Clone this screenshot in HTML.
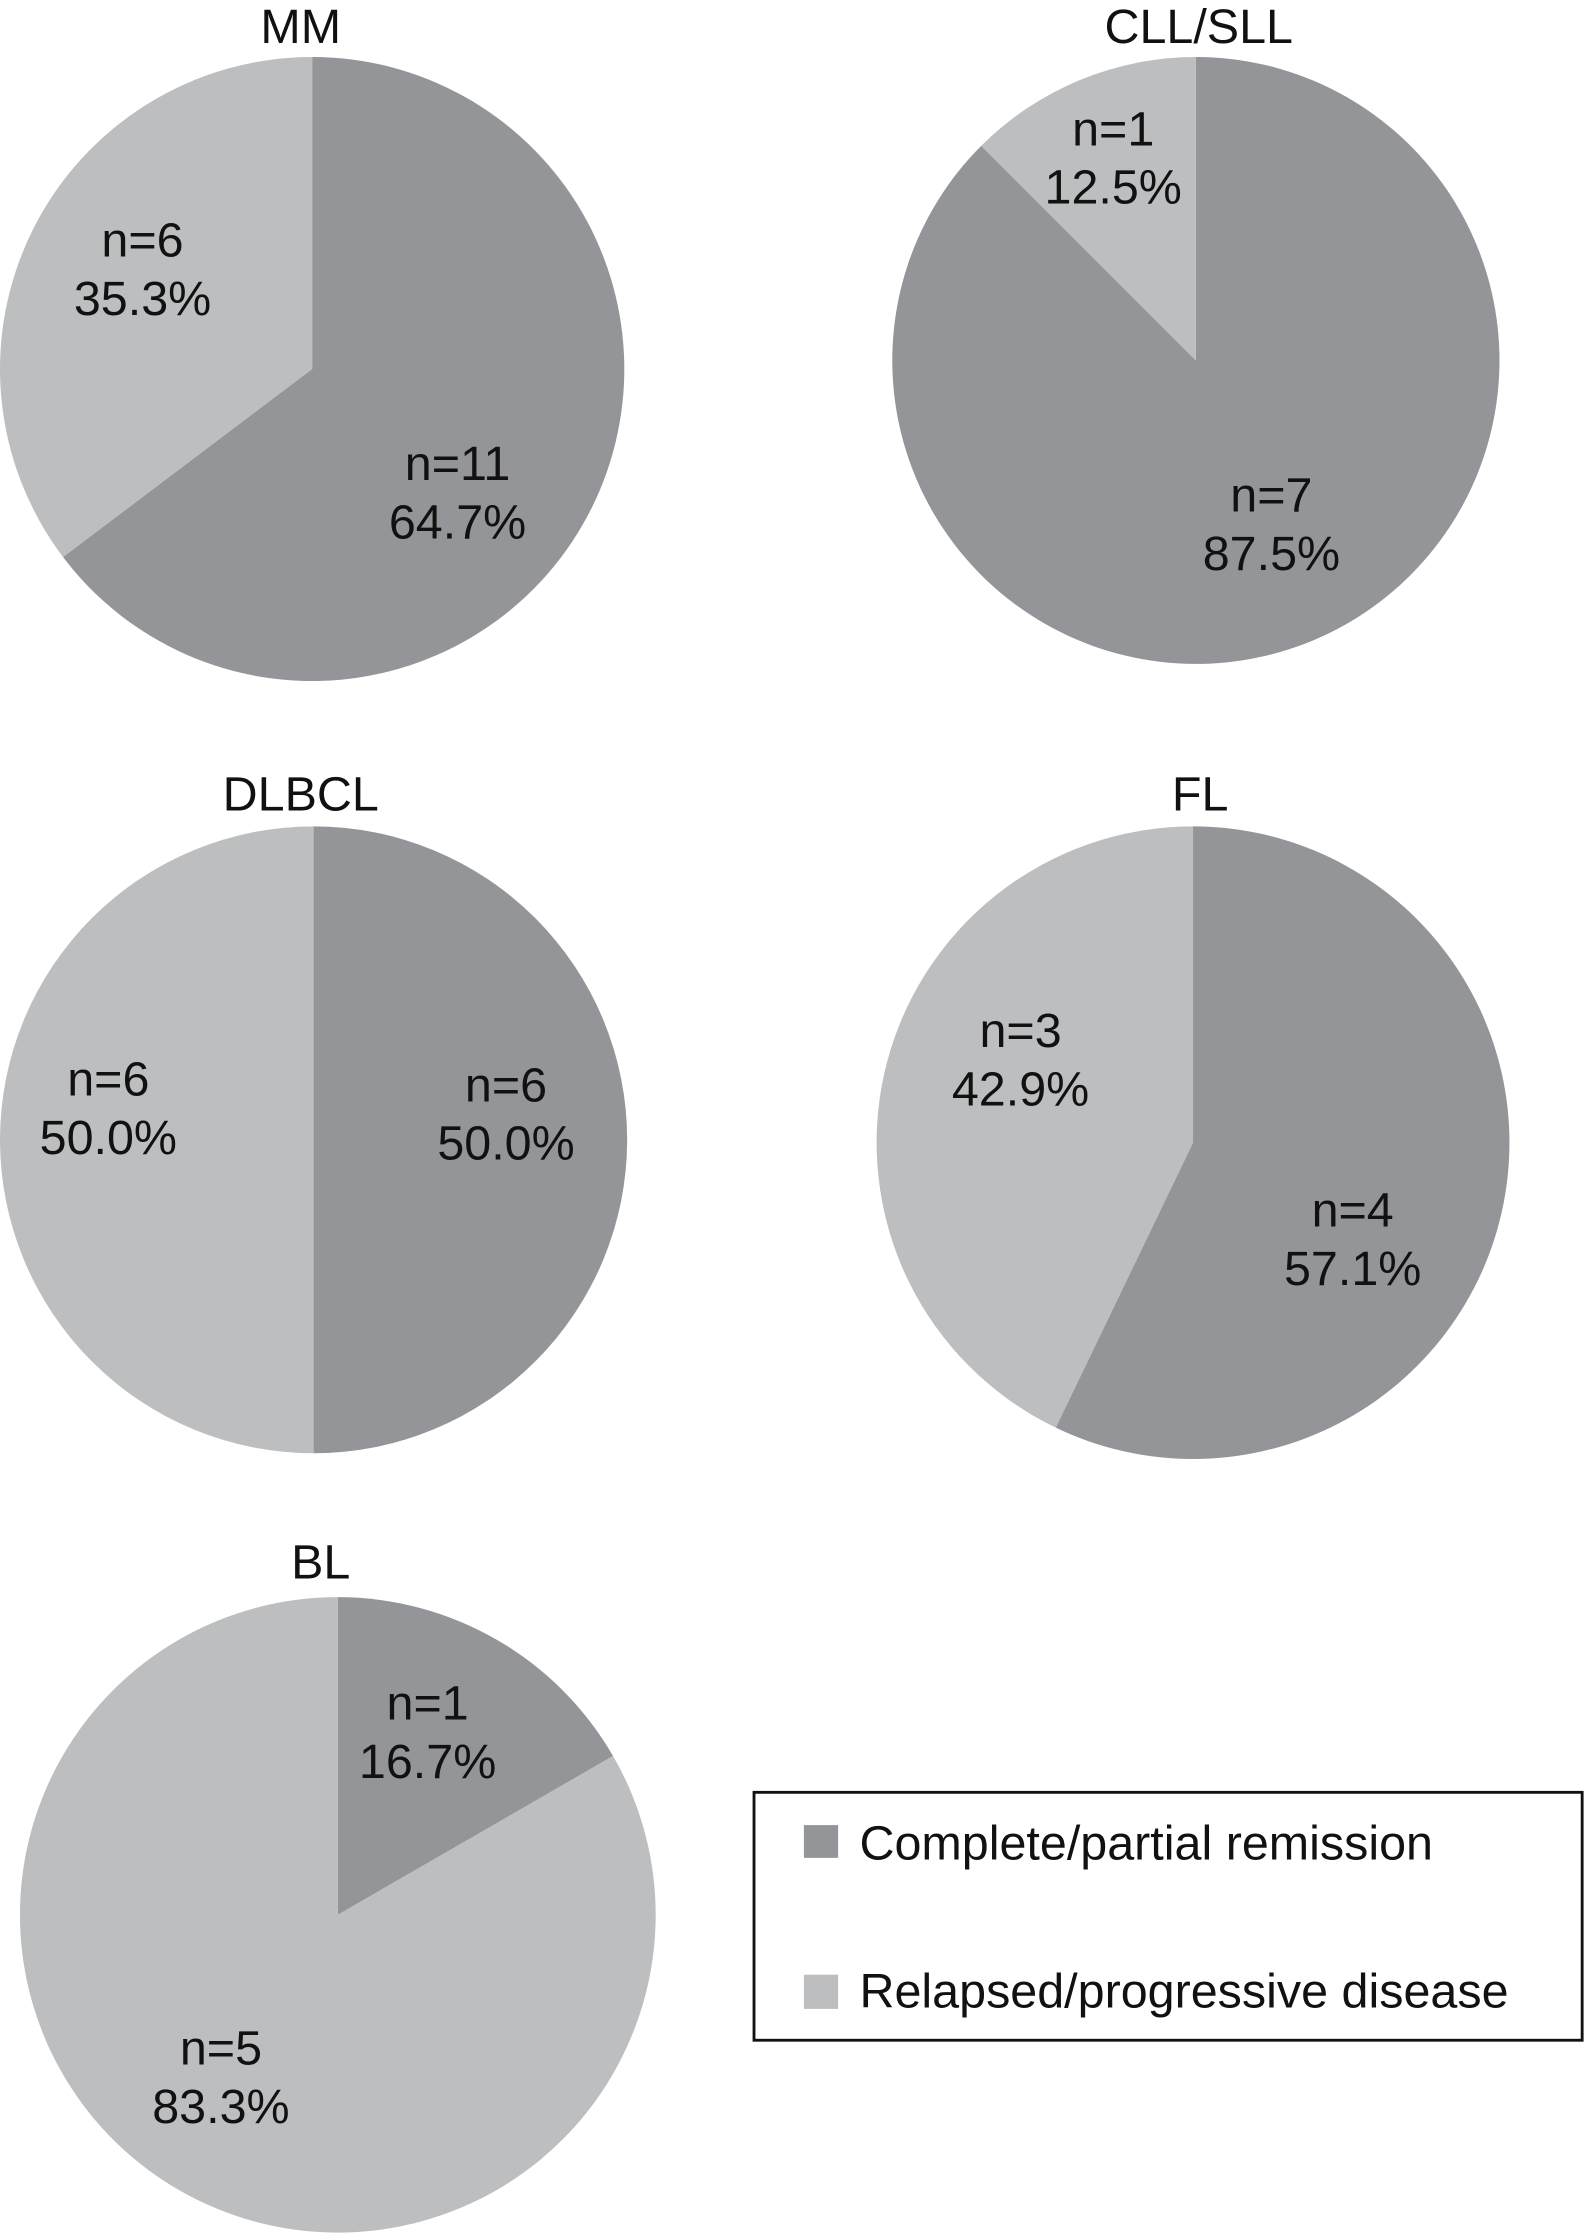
<!DOCTYPE html>
<html><head><meta charset="utf-8"><style>
html,body{margin:0;padding:0;background:#fff;}
svg{display:block;}
text{font-family:"Liberation Sans",Arial,sans-serif;fill:#111;}
</style></head>
<body>
<svg id="chart" width="1585" height="2234" viewBox="0 0 1112 1568" preserveAspectRatio="none">
<g id="pies"></g>
<g>
<rect x="529" y="1258" width="581" height="174" fill="#fff" stroke="#111" stroke-width="2"/>
<rect x="564" y="1281" width="24" height="23" fill="#939598"/>
<text x="603" y="1305" font-size="34">Complete/partial remission</text>
<rect x="564" y="1386" width="24" height="24" fill="#bcbec0"/>
<text x="603" y="1409" font-size="34">Relapsed/progressive disease</text>
</g>
</svg>
<script>
const titles = ["MM","CLL/SLL","DLBCL","FL","BL"];
const remissionN = [11,7,6,4,1];
const relapsedN = [6,1,6,3,5];
const remissionPct = ["64.7%","87.5%","50.0%","57.1%","16.7%"];
const relapsedPct = ["35.3%","12.5%","50.0%","42.9%","83.3%"];

// layout (display coordinates)
const layout = [
 {cx:219,cy:259,r:219,tx:211,ty:30,dl:[321,337],ll:[100,180]},
 {cx:839,cy:253,r:213,tx:841,ty:30,dl:[892,359],ll:[781,102]},
 {cx:220,cy:800,r:220,tx:211,ty:569,dl:[355,773],ll:[76,769]},
 {cx:837,cy:802,r:222,tx:842,ty:569,dl:[949,861],ll:[716,735]},
 {cx:237,cy:1344,r:223,tx:225,ty:1108,dl:[300,1207],ll:[155,1449]}
];
const NS="http://www.w3.org/2000/svg";
const g=document.getElementById('pies');
function pt(cx,cy,r,f){const a=f*2*Math.PI;return [cx+r*Math.sin(a),cy-r*Math.cos(a)];}
function slice(cx,cy,r,f0,f1){
 const p0=pt(cx,cy,r,f0),p1=pt(cx,cy,r,f1);const large=(f1-f0)>0.5?1:0;
 return `M${cx},${cy} L${p0[0]},${p0[1]} A${r},${r} 0 ${large} 1 ${p1[0]},${p1[1]} Z`;
}
function txt(x,y,s,name,size){
 const t=document.createElementNS(NS,'text');
 t.setAttribute('x',x);t.setAttribute('y',y);t.setAttribute('text-anchor','middle');
 t.setAttribute('font-size',size);t.textContent=s;
 
 
 g.appendChild(t);
}
titles.forEach((title,i)=>{
 const L=layout[i];const total=remissionN[i]+relapsedN[i];const f=remissionN[i]/total;
 const key=title.toLowerCase().replace('/','-');
 const d=document.createElementNS(NS,'path');
 d.setAttribute('d',slice(L.cx,L.cy,L.r,0,f));d.setAttribute('fill','#939598');
 
 
 g.appendChild(d);
 const l=document.createElementNS(NS,'path');
 l.setAttribute('d',slice(L.cx,L.cy,L.r,f,1));l.setAttribute('fill','#bcbec0');
 
 
 g.appendChild(l);
 txt(L.tx,L.ty,title,'title-'+key,34);
 txt(L.dl[0],L.dl[1],'n='+remissionN[i],'label-remission-n-'+key,34);
 txt(L.dl[0],L.dl[1]+41,remissionPct[i],'label-remission-pct-'+key,34);
 txt(L.ll[0],L.ll[1],'n='+relapsedN[i],'label-relapsed-n-'+key,34);
 txt(L.ll[0],L.ll[1]+41,relapsedPct[i],'label-relapsed-pct-'+key,34);
});
</script>
</body></html>
